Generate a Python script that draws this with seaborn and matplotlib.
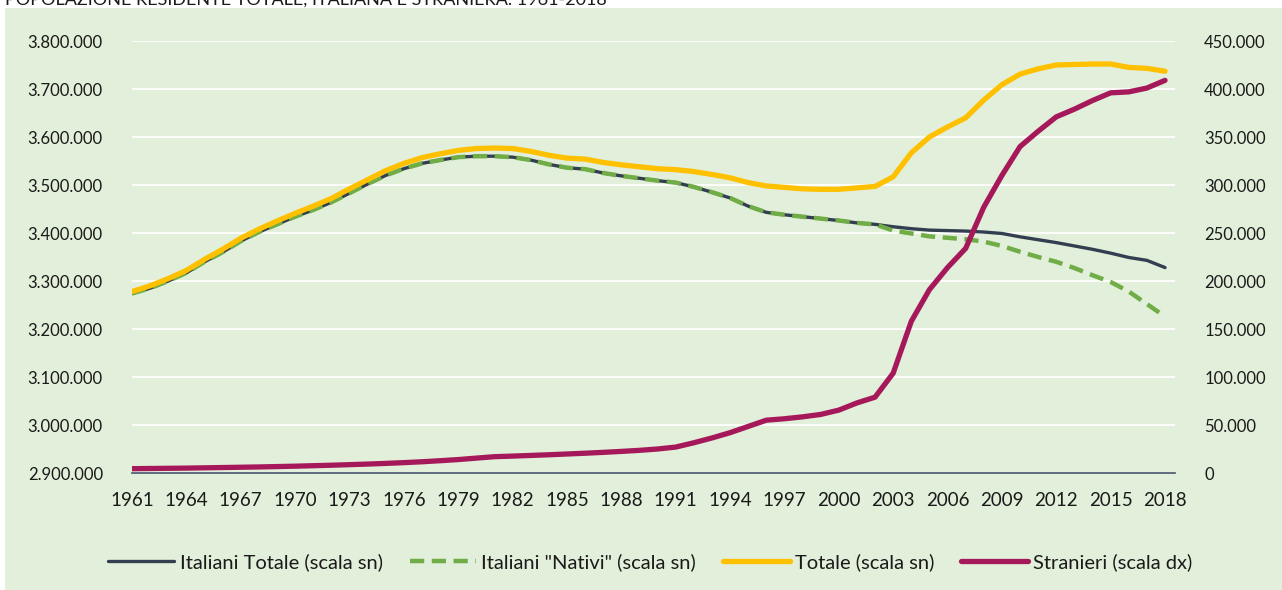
import pandas as pd
import seaborn as sns
import matplotlib.pyplot as plt
from matplotlib.patches import Rectangle
from matplotlib.ticker import FuncFormatter, MultipleLocator, FixedLocator

# dati (migliaia)
anni = list(range(1961, 2019))

totale = [3278, 3290, 3305, 3322, 3345, 3366, 3389, 3408, 3425, 3441,
          3456, 3472, 3492, 3511, 3530, 3545, 3557, 3565, 3572, 3576,
          3577, 3576, 3570, 3562, 3556, 3554, 3547, 3542, 3538, 3534,
          3532, 3528, 3522, 3515, 3505, 3498, 3495, 3492, 3491, 3491,
          3494, 3497, 3517, 3567, 3600, 3621, 3640, 3677, 3709, 3731,
          3742, 3750, 3751, 3752, 3752, 3745, 3743, 3737]

italiani_totale = [3274, 3285, 3300, 3317, 3340, 3360, 3383, 3402, 3418, 3434,
                   3448, 3464, 3483, 3502, 3520, 3534, 3545, 3552, 3558, 3560,
                   3560, 3558, 3552, 3543, 3536, 3533, 3525, 3519, 3514, 3509,
                   3505, 3496, 3485, 3473, 3456, 3443, 3438, 3434, 3430, 3426,
                   3421, 3418, 3413, 3409, 3406, 3405, 3404, 3402, 3399, 3392,
                   3386, 3380, 3373, 3366, 3358, 3349, 3343, 3328]

italiani_nativi = [3274, 3285, 3300, 3317, 3340, 3360, 3383, 3402, 3418, 3434,
                   3448, 3464, 3483, 3502, 3520, 3534, 3545, 3552, 3558, 3560,
                   3560, 3558, 3552, 3543, 3536, 3533, 3525, 3519, 3514, 3509,
                   3505, 3496, 3485, 3473, 3456, 3443, 3438, 3434, 3430, 3426,
                   3421, 3418, 3405, 3399, 3393, 3390, 3387, 3382, 3373, 3361,
                   3350, 3340, 3327, 3312, 3298, 3278, 3252, 3226]

stranieri = [4.5, 4.7, 4.9, 5.1, 5.4, 5.7, 6.0, 6.3, 6.7, 7.1,
             7.6, 8.1, 8.7, 9.3, 10.0, 10.8, 11.7, 12.8, 14.0, 15.5,
             17.0, 17.6, 18.3, 19.0, 19.8, 20.6, 21.5, 22.5, 23.6, 25.0,
             27.0, 31.5, 36.5, 42.0, 48.5, 55.0, 56.5, 58.5, 61.0, 65.5,
             73.0, 79.0, 104, 158, 191, 214, 234, 277, 310, 340,
             356, 371, 379, 388, 396, 397, 401, 409]

anni_tick = list(range(1961, 2019, 3))

etichette = ['Italiani Totale (scala sn)', 'Italiani "Nativi" (scala sn)',
             'Totale (scala sn)', 'Stranieri (scala dx)']
titolo = 'POPOLAZIONE RESIDENTE TOTALE, ITALIANA E STRANIERA. 1961-2018'

df = pd.DataFrame({
    'anno': anni,
    'ita_tot': [v * 1000 for v in italiani_totale],
    'ita_nat': [v * 1000 for v in italiani_nativi],
    'totale': [v * 1000 for v in totale],
    'stranieri': [v * 1000 for v in stranieri],
})

sns.set_style('white')
plt.rcParams['font.family'] = ['Lato', 'DejaVu Sans']

verde_bg = '#E2EFDA'
testo = '#1a1a1a'

fig = plt.figure(figsize=(12.82, 5.9), dpi=100)
fig.patch.set_facecolor('white')
fig.patches.append(Rectangle((5 / 1282, 0), 1, 1 - 8 / 590, transform=fig.transFigure,
                             facecolor=verde_bg, edgecolor='none', zorder=-10))

ax = fig.add_axes([132 / 1282, 1 - 473 / 590, (1175 - 132) / 1282, (473 - 41) / 590])
ax.set_facecolor('none')
ax2 = ax.twinx()

sns.lineplot(data=df, x='anno', y='ita_tot', ax=ax, color='#333F50', lw=2.4,
             label=etichette[0], legend=False)
sns.lineplot(data=df, x='anno', y='ita_nat', ax=ax, color='#70AD47', lw=3.2,
             label=etichette[1], legend=False, dashes=False)
ax.lines[-1].set_dashes([3.2, 1.7])
sns.lineplot(data=df, x='anno', y='totale', ax=ax, color='#FFC000', lw=3.8,
             label=etichette[2], legend=False)
sns.lineplot(data=df, x='anno', y='stranieri', ax=ax2, color='#A5195A', lw=3.8,
             label=etichette[3], legend=False)

for line in ax.lines + ax2.lines:
    line.set_solid_capstyle('round')
    line.set_dash_capstyle('butt')

ax.set_xlim(1961, 2018.55)
ax.set_ylim(2900000, 3800000)
ax2.set_ylim(0, 450000)

fmt = FuncFormatter(lambda v, p: f'{int(round(v)):,}'.replace(',', '.'))
ax.yaxis.set_major_locator(MultipleLocator(100000))
ax2.yaxis.set_major_locator(MultipleLocator(50000))
ax.yaxis.set_major_formatter(fmt)
ax2.yaxis.set_major_formatter(fmt)
ax.xaxis.set_major_locator(FixedLocator(anni_tick))
ax.xaxis.set_major_formatter(FuncFormatter(lambda v, p: f'{int(round(v))}'))

ax.grid(axis='y', color='white', lw=1.3)
ax.set_axisbelow(True)

for a in (ax, ax2):
    for s in ('top', 'left', 'right'):
        a.spines[s].set_visible(False)
    a.set_xlabel('')
    a.set_ylabel('')
ax.spines['bottom'].set_color('#44546A')
ax.spines['bottom'].set_linewidth(1.2)
ax2.spines['bottom'].set_visible(False)

ax.tick_params(axis='x', direction='inout', length=12, width=1.2, color='#44546A',
               labelsize=13.5, labelcolor=testo, pad=8)
ax.tick_params(axis='y', length=0, labelsize=12, labelcolor=testo, pad=21)
ax2.tick_params(axis='y', length=0, labelsize=12, labelcolor=testo, pad=21)

h1, l1 = ax.get_legend_handles_labels()
h2, l2 = ax2.get_legend_handles_labels()
fig.legend(h1 + h2, l1 + l2, loc='center', bbox_to_anchor=(0.507, 1 - 562 / 590),
           ncol=4, frameon=False, fontsize=14.5, handlelength=3.3, handletextpad=0.25,
           columnspacing=1.35, labelcolor=testo)

fig.text(0.004, 1 - 5 / 590, titolo, fontsize=13, color=testo, va='baseline', ha='left')

plt.savefig('out.png', dpi=100, facecolor=fig.get_facecolor())
